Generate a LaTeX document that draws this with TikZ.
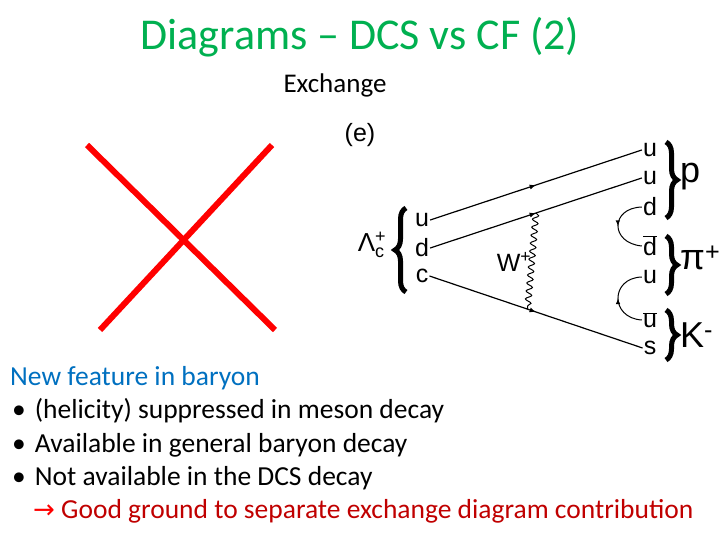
\documentclass[tikz,border=0pt]{standalone}
\usepackage{fontspec}
\setmainfont{Carlito}
\newfontfamily\diagfont{Liberation Sans}
\usetikzlibrary{decorations.markings,decorations.pathmorphing,decorations.pathreplacing}
\definecolor{titlegreen}{RGB}{0,176,80}
\definecolor{headblue}{RGB}{0,112,192}
\definecolor{notered}{RGB}{192,0,0}
\tikzset{
  quark/.style={font=\diagfont\fontsize{25}{25}\selectfont,inner sep=1pt},
  hadron/.style={font=\diagfont\fontsize{36}{36}\selectfont,anchor=west,inner sep=0pt},
  fermion/.style={line width=1.2pt,postaction={decorate},
    decoration={markings,mark=at position 0.5 with {\arrow{latex}}}},
  hbrace/.style={decorate,decoration={brace,amplitude=11pt},line width=5pt},
  body/.style={font=\fontsize{27.5}{27.5}\selectfont,anchor=base west,inner sep=0pt},
}
\begin{document}
\begin{tikzpicture}[x=1pt,y=-1pt]
\useasboundingbox (0,0) rectangle (720,540);
% title
\node (title) at (360,37) {\fontsize{44}{44}\selectfont\color{titlegreen}Diagrams -- DCS vs CF (2)};
\node (exch) at (335,85) {\fontsize{27}{27}\selectfont Exchange};
% crossed out
\draw[red,line width=6pt] (87,145) -- (275,330);
\draw[red,line width=6pt] (272,145) -- (100,330);
% diagram
\node[quark] (lbl) at (360,135) {(e)};
\node[quark,font=\diagfont\fontsize{26}{26}\selectfont] (lc) at (372,245) {Λ$_{\hbox{\diagfont\fontsize{18}{18}\selectfont c}}^{\hbox{\diagfont\fontsize{18}{18}\selectfont +}}$};
\node[quark] (iu) at (422,220) {u};
\node[quark] (id) at (422,248) {d};
\node[quark] (ic) at (422,276) {c};
\node[quark] (ou1) at (650,150) {u};
\node[quark] (ou2) at (650,178) {u};
\node[quark] (od) at (650,207) {d};
\node[quark] (odb) at (650,246) {$\overline{\hbox{d}}$};
\node[quark] (ou3) at (650,277) {u};
\node[quark] (oub) at (650,320) {$\overline{\hbox{u}}$};
\node[quark] (os) at (650,348) {s};
\draw[hbrace] (406,292) -- (406,208);
\draw[hbrace] (666,142) -- (666,218);
\draw[hbrace] (666,236) -- (666,294);
\draw[hbrace] (666,310) -- (666,360);
\node[hadron] (p) at (680,177) {p};
\node[hadron] (pi) at (680,258) {π\textsuperscript{+}};
\node[hadron] (K) at (680,335) {K\textsuperscript{-}};
\draw[fermion] (iu.east) -- (ou1.west);
\draw[fermion] (id.east) -- coordinate[pos=0.5] (wa) (ou2.west);
\draw[fermion] (ic.east) -- coordinate[pos=0.46] (wb) (os.west);
\draw[line width=1pt,decorate,decoration={snake,amplitude=3pt,segment length=8pt}] (wa) -- (wb);
\node[quark] (W) at (514,262) {W\textsuperscript{+}};
\draw[line width=1pt,postaction={decorate},decoration={markings,mark=at position 0.5 with {\arrow{latex}}}]
  (od.west) .. controls (610,208) and (610,243) .. (odb.west);
\draw[line width=1pt,postaction={decorate},decoration={markings,mark=at position 0.5 with {\arrow{latex}}}]
  (oub.west) .. controls (610,318) and (610,278) .. (ou3.west);
% text
\node[body,text=headblue] (t0) at (10,385) {New feature in baryon};
\node[body] (t1) at (12,418) {\textbullet\hspace{9pt}(helicity) suppressed in meson decay};
\node[body] (t2) at (12,452) {\textbullet\hspace{9pt}Available in general baryon decay};
\node[body] (t3) at (12,485) {\textbullet\hspace{9pt}Not available in the DCS decay};
\node[body,text=notered] (t4) at (33,518) {\textcolor{red}{\fontspec{DejaVu Sans}\fontsize{26}{26}\selectfont→}\ Good ground to separate exchange diagram contribution};
\end{tikzpicture}
\end{document}
